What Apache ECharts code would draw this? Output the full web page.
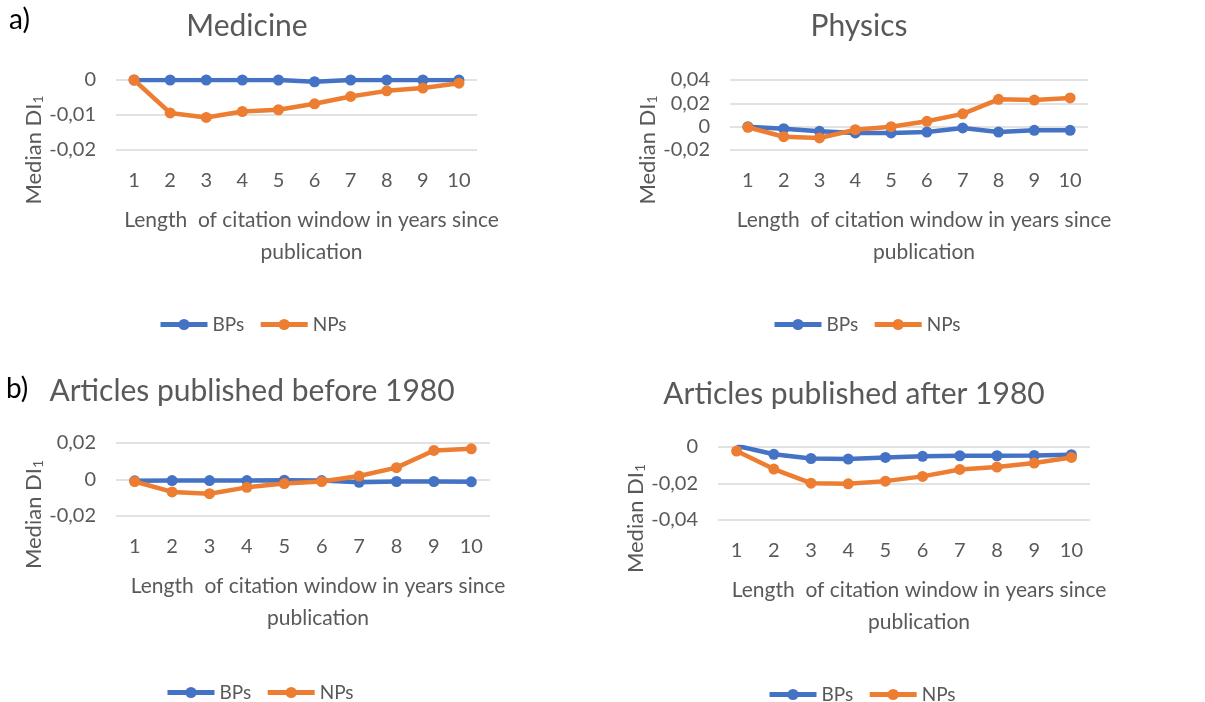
<!DOCTYPE html>
<html><head><meta charset="utf-8">
<script src="https://cdn.jsdelivr.net/npm/echarts@6/dist/echarts.min.js"></script>
<style>html,body{margin:0;padding:0;background:#fff}#c{width:1205px;height:702px}</style>
</head><body><div id="c"></div>
<script>
const categories = ['1','2','3','4','5','6','7','8','9','10'];
const seriesNames = ['BPs','NPs'];
const panelTitles = ['Medicine','Physics','Articles published before 1980','Articles published after 1980'];
const medBP = [0,0,0,0,0,-0.0005,0,0,0,0];
const medNP = [0,-0.0094,-0.0107,-0.009,-0.0085,-0.0068,-0.0047,-0.0031,-0.0023,-0.0009];
const phyBP = [0,-0.0017,-0.004,-0.0054,-0.0054,-0.0046,-0.0011,-0.0046,-0.0031,-0.0031];
const phyNP = [-0.0005,-0.0086,-0.0097,-0.0026,0,0.0046,0.011,0.0234,0.0228,0.0246];
const preBP = [-0.0007,-0.0006,-0.0006,-0.0006,-0.0004,-0.0006,-0.0015,-0.0011,-0.0011,-0.0013];
const preNP = [-0.0011,-0.0068,-0.0078,-0.0043,-0.0022,-0.0011,0.0019,0.0065,0.0159,0.0168];
const postBP = [0.0007,-0.004,-0.0063,-0.0066,-0.0057,-0.0051,-0.0048,-0.0048,-0.0046,-0.0042];
const postNP = [-0.0022,-0.0121,-0.0198,-0.0202,-0.0187,-0.0161,-0.0123,-0.011,-0.0088,-0.0057];
const yMin = [-0.02,-0.02,-0.02,-0.04];
const yMax = [0,0.04,0.02,0];
const yStep = [0.01,0.02,0.02,0.02];
const xAxisName = 'Length  of citation window in years since\npublication';

const FONT = 'Lato';
const TXT = '#595959';
const BLUE = '#4472C4', ORANGE = '#ED7D31';
const grids = [
  {left:116, top:80, width:361, height:70},
  {left:730, top:80, width:358, height:70},
  {left:116, top:443, width:374, height:73},
  {left:718, top:447, width:372, height:73}
];
const titlePos = [[247,8,30,36],[859,8,30,36],[252,373,30,36],[854,376,30,36]];
const legendPos = [[158,315],[772,315],[165,683],[767,685]];
const data = [[medBP,medNP],[phyBP,phyNP],[preBP,preNP],[postBP,postNP]];

function fmt(v){ if (Math.abs(v) < 1e-9) return '0'; return String(Number(v.toFixed(4))).replace('.',','); }

const option = {
  animation:false,
  backgroundColor:'#fff',
  textStyle:{fontFamily:FONT},
  title: panelTitles.map((t,i)=>({text:t, left:titlePos[i][0], top:titlePos[i][1], textAlign:'center', padding:0,
    textStyle:{fontFamily:FONT, fontSize:titlePos[i][2], lineHeight:titlePos[i][3], fontWeight:'normal', color:TXT}})),
  legend: legendPos.map((p,i)=>({data:seriesNames, left:p[0], top:p[1], padding:0, itemGap:14, itemWidth:47, itemHeight:14,
    lineStyle:{width:5}, textStyle:{fontFamily:FONT, fontSize:19, color:TXT}})),
  grid: grids,
  xAxis: grids.map((g,i)=>({type:'category', gridIndex:i, data:categories, boundaryGap:true,
    axisLine:{show:false}, axisTick:{show:false},
    axisLabel:{fontFamily:FONT, fontSize:20, color:TXT, margin:21},
    name:xAxisName, nameLocation:'middle', nameGap:54,
    nameTextStyle:{fontFamily:FONT, fontSize:21, lineHeight:32, color:TXT, padding:[0,0,0,30]}})),
  yAxis: grids.map((g,i)=>({type:'value', gridIndex:i, min:yMin[i], max:yMax[i], interval:yStep[i],
    axisLine:{show:false}, axisTick:{show:false},
    splitLine:{lineStyle:{color:'#d9d9d9', width:1.5}},
    axisLabel:{fontFamily:FONT, fontSize:20, color:TXT, margin:20, formatter:fmt},
    name:'Median DI{sub|1}', nameLocation:'middle', nameRotate:90, nameGap:68,
    nameTextStyle:{fontFamily:FONT, fontSize:22, color:TXT, padding:[0,70,0,0],
      rich:{sub:{fontFamily:FONT, fontSize:14, color:TXT, verticalAlign:'bottom', padding:[9,0,0,0]}}}})),
  series: [],
  graphic: [
    {type:'text', left:9, top:6, style:{text:'a)', fontFamily:FONT, fontSize:28, fill:'#000'}},
    {type:'text', left:6, top:375, style:{text:'b)', fontFamily:FONT, fontSize:28, fill:'#000'}}
  ]
};
data.forEach((pair,i)=>{
  pair.forEach((vals,j)=>{
    option.series.push({name:seriesNames[j], type:'line', xAxisIndex:i, yAxisIndex:i, data:vals,
      symbol:'circle', symbolSize:11, z: 2+j,
      lineStyle:{width:4.5, color: j?ORANGE:BLUE}, itemStyle:{color: j?ORANGE:BLUE}});
  });
});
const chart = echarts.init(document.getElementById('c'), null, {renderer:'canvas'});
chart.setOption(option);
</script></body></html>
